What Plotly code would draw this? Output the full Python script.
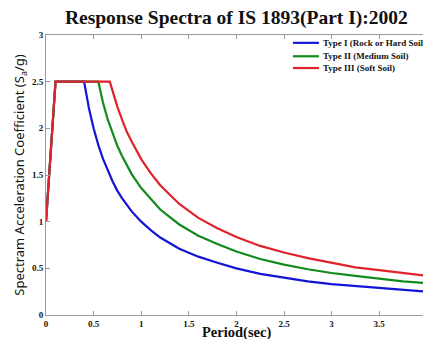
import plotly.graph_objects as go

# Type I (Rock or Hard Soil)
t1_period = [0.0, 0.1, 0.4, 0.45, 0.5, 0.55, 0.6, 0.65, 0.7, 0.75, 0.8, 0.9, 1.0, 1.1, 1.2, 1.4, 1.6, 1.8, 2.0, 2.25, 2.5, 2.75, 3.0, 3.25, 3.5, 3.75, 4.0]
t1_sa = [1.0, 2.5, 2.5, 2.22, 2.0, 1.82, 1.67, 1.54, 1.43, 1.33, 1.25, 1.11, 1.0, 0.91, 0.83, 0.71, 0.625, 0.56, 0.5, 0.44, 0.4, 0.36, 0.33, 0.31, 0.29, 0.27, 0.25]

# Type II (Medium Soil)
t2_period = [0.0, 0.1, 0.55, 0.6, 0.65, 0.7, 0.75, 0.8, 0.85, 0.9, 1.0, 1.1, 1.2, 1.4, 1.6, 1.8, 2.0, 2.25, 2.5, 2.75, 3.0, 3.25, 3.5, 3.75, 4.0]
t2_sa = [1.0, 2.5, 2.5, 2.27, 2.09, 1.94, 1.81, 1.70, 1.60, 1.51, 1.36, 1.24, 1.13, 0.97, 0.85, 0.76, 0.68, 0.60, 0.54, 0.49, 0.45, 0.42, 0.39, 0.36, 0.34]

# Type III (Soft Soil)
t3_period = [0.0, 0.1, 0.67, 0.7, 0.75, 0.8, 0.85, 0.9, 0.95, 1.0, 1.1, 1.2, 1.4, 1.6, 1.8, 2.0, 2.25, 2.5, 2.75, 3.0, 3.25, 3.5, 3.75, 4.0]
t3_sa = [1.0, 2.5, 2.5, 2.39, 2.23, 2.09, 1.96, 1.86, 1.76, 1.67, 1.52, 1.39, 1.19, 1.04, 0.93, 0.835, 0.74, 0.67, 0.61, 0.56, 0.51, 0.48, 0.45, 0.42]

series_names = ["Type I (Rock or Hard Soil)", "Type II (Medium Soil)", "Type III (Soft Soil)"]
series_colors = ["#1414d6", "#128a1c", "#e0222a"]

x_ticks = [0, 0.5, 1, 1.5, 2, 2.5, 3, 3.5]
y_ticks = [0, 0.5, 1, 1.5, 2, 2.5, 3]

serif = "Liberation Serif"
sans = "Noto Sans"

fig = go.Figure()
for xs, ys, name, color in zip([t1_period, t2_period, t3_period], [t1_sa, t2_sa, t3_sa],
                               series_names, series_colors):
    fig.add_trace(go.Scatter(x=xs, y=ys, mode="lines", name=name, showlegend=False,
                             line=dict(color=color, width=2.2)))

# compact MATLAB-style legend (top right, inside axes)
leg_y = [0.972, 0.924, 0.882]
for name, color, yy in zip(series_names, series_colors, leg_y):
    fig.add_shape(type="line", xref="paper", yref="paper", x0=0.655, x1=0.724, y0=yy, y1=yy,
                  line=dict(color=color, width=2.2))
    fig.add_annotation(xref="paper", yref="paper", x=0.729, y=yy, xanchor="left", yanchor="middle",
                       text="<b>" + name + "</b>", showarrow=False,
                       font=dict(family=serif, size=9, color="#111111"))

# x-axis title
fig.add_annotation(xref="paper", yref="paper", x=0.505, y=-0.064, xanchor="center", yanchor="middle",
                   text="<b>Period(sec)</b>", showarrow=False,
                   font=dict(family=serif, size=14.5, color="#111111"))

fig.update_layout(
    width=423, height=339,
    margin=dict(l=46, r=0, t=35, b=24, autoexpand=False),
    paper_bgcolor="white", plot_bgcolor="white",
    font=dict(family=serif, color="#111111"),
    title=dict(text="<b>Response Spectra of IS 1893(Part I):2002</b>",
               x=0.505, xref="paper", xanchor="center", y=0.95, yanchor="middle",
               font=dict(family=serif, size=19.5, color="#111111")),
    showlegend=False,
    xaxis=dict(range=[0, 3.96], tickvals=x_ticks, ticktext=[str(v) for v in x_ticks],
               showgrid=False, zeroline=False, showline=True, linecolor="#999999", linewidth=1,
               mirror="ticks", ticks="inside", ticklen=4, tickcolor="#999999", automargin=False,
               tickfont=dict(family=serif, size=9, color="#111111", weight="bold")),
    yaxis=dict(range=[0, 3], tickvals=y_ticks, ticktext=[str(v) for v in y_ticks],
               showgrid=False, zeroline=False, showline=True, linecolor="#999999", linewidth=1,
               mirror=False, ticks="inside", ticklen=4, tickcolor="#999999", automargin=False,
               tickfont=dict(family=serif, size=9, color="#111111", weight="bold"),
               title=dict(text="Spectram Acceleration Coefficient (S<sub>a</sub>/g)", standoff=4,
                          font=dict(family=sans, size=13, color="#111111"))),
)

fig.write_html("out.html")
